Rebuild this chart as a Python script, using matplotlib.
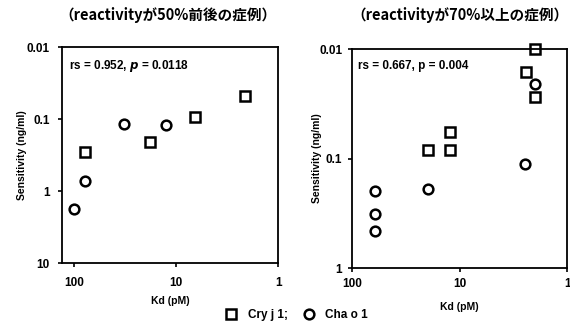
import matplotlib
matplotlib.use("Agg")
import matplotlib.pyplot as plt
from matplotlib.lines import Line2D

plt.rcParams['font.family'] = ['Liberation Sans', 'DejaVu Sans']
plt.rcParams['font.weight'] = 'bold'

# left panel: reactivity ~50%
left_cry_kd = [78, 17.9, 6.5, 2.1]
left_cry_sens = [0.29, 0.21, 0.093, 0.048]
left_cha_kd = [100, 78, 32, 12.6]
left_cha_sens = [1.8, 0.72, 0.119, 0.12]

# right panel: reactivity >= 70%
right_cry_kd = [2.0, 2.4, 2.0, 19.5, 12.2, 12.2]
right_cry_sens = [0.01, 0.0163, 0.0276, 0.084, 0.057, 0.084]
right_cha_kd = [61.6, 61.6, 61.6, 19.8, 2.47, 2.0]
right_cha_sens = [0.197, 0.32, 0.46, 0.19, 0.112, 0.021]

titles = ['（reactivityが50%前後の症例）', '（reactivityが70%以上の症例）']
stats = [r'rs = 0.952, $\mathbf{\it{p}}$ = 0.0118', 'rs = 0.667, p = 0.004']
legend_labels = ['Cry j 1;', 'Cha o 1']

cjk = ['Noto Sans CJK JP', 'DejaVu Sans']

fig = plt.figure(figsize=(5.70, 3.29), dpi=100)
ax1 = fig.add_axes([0.109, 0.2006, 0.379, 0.6564])
ax2 = fig.add_axes([0.6175, 0.185, 0.3775, 0.666])

mk = dict(linestyle='none', markerfacecolor='white', markeredgecolor='black',
          markersize=7, markeredgewidth=1.8, clip_on=False)

ax1.plot(left_cry_kd, left_cry_sens, marker='s', **mk)
ax1.plot(left_cha_kd, left_cha_sens, marker='o', **mk)
ax2.plot(right_cry_kd, right_cry_sens, marker='s', **mk)
ax2.plot(right_cha_kd, right_cha_sens, marker='o', **mk)

ax1.set_xscale('log')
ax1.set_yscale('log')
ax1.set_xlim(130, 1)
ax1.set_ylim(10, 0.01)
ax1.set_xticks([100, 10, 1], ['100', '10', '1'])
ax1.set_yticks([0.01, 0.1, 1, 10], ['0.01', '0.1', '1', '10'])

ax2.set_xscale('log')
ax2.set_yscale('log')
ax2.set_xlim(100, 1)
ax2.set_ylim(1, 0.01)
ax2.set_xticks([100, 10, 1], ['100', '10', '1'])
ax2.set_yticks([0.01, 0.1, 1], ['0.01', '0.1', '1'])

xpads = [7, 4]
ypads = [6, 4]
xlabelpads = [5, 9]
ylabelpads = [0, -2]
for i, ax in enumerate([ax1, ax2]):
    ax.minorticks_off()
    for s in ax.spines.values():
        s.set_linewidth(1.3)
    ax.tick_params(direction='out', length=3, width=1.2, labelsize=8.5)
    ax.tick_params(axis='x', pad=xpads[i])
    ax.tick_params(axis='y', pad=ypads[i])
    ax.set_xlabel('Kd (pM)', fontsize=7.5, fontweight='bold', labelpad=xlabelpads[i])
    ax.set_ylabel('Sensitivity (ng/ml)', fontsize=7.5, fontweight='bold', labelpad=ylabelpads[i])
    ax.text(0.03, 0.95, stats[i], transform=ax.transAxes, fontsize=8.5,
            fontweight='bold', va='top', ha='left')

fig.text(168 / 570, 1 - 15 / 329, titles[0], family=cjk, fontsize=10.5,
         fontweight='bold', ha='center', va='center')
fig.text(460 / 570, 1 - 15 / 329, titles[1], family=cjk, fontsize=10.5,
         fontweight='bold', ha='center', va='center')

handles = [Line2D([], [], marker='s', **{k: v for k, v in mk.items() if k != 'clip_on'}),
           Line2D([], [], marker='o', **{k: v for k, v in mk.items() if k != 'clip_on'})]
fig.legend(handles, legend_labels, loc='center', bbox_to_anchor=(296 / 570, 1 - 315 / 329),
           ncol=2, frameon=False, fontsize=8.5, handlelength=1.2, columnspacing=1.2,
           handletextpad=0.8)

plt.savefig('out.png', dpi=100)
